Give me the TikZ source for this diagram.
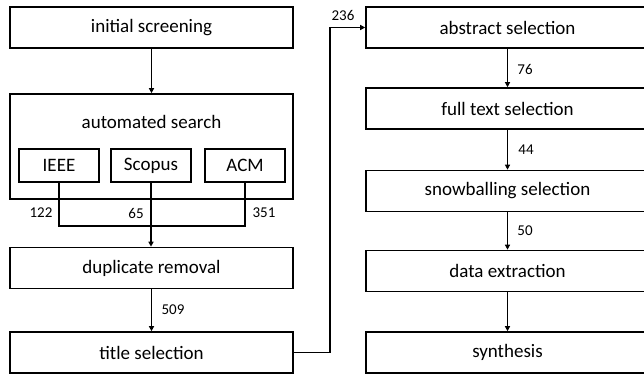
\documentclass[tikz,border=0pt]{standalone}
\usepackage{fontspec}
\setmainfont{Carlito}
\usetikzlibrary{arrows.meta}
\begin{document}
\begin{tikzpicture}[x=1pt,y=-1pt,
  box/.style={draw,line width=1.6pt,minimum width=283pt,minimum height=41pt,inner sep=0pt,font=\fontsize{19}{22}\selectfont},
  db/.style={draw,line width=1.6pt,minimum width=80pt,minimum height=33pt,inner sep=0pt,font=\fontsize{19}{22}\selectfont},
  con/.style={line width=1.8pt,-{Triangle[length=5pt,width=5pt]}},
  ln/.style={line width=1.8pt},
  num/.style={font=\fontsize{15}{16}\selectfont,inner sep=0pt}]
\useasboundingbox (0,0) rectangle (644,375);
\node[box] (init) at (151.5,27.5) {initial screening};
\node[draw,line width=1.6pt,minimum width=283pt,minimum height=105pt,inner sep=0pt] (auto) at (151.5,146.5) {};
\node[font=\fontsize{19}{22}\selectfont,inner sep=0pt] (autot) at (151.5,122) {automated search};
\node[db] (ieee) at (59,165.5) {IEEE};
\node[db] (scopus) at (151,165.5) {Scopus};
\node[db] (acm) at (245,165.5) {ACM};
\node[box] (dup) at (151.5,268) {duplicate removal};
\node[box] (title) at (151.5,352.5) {title selection};
\node[box] (abs) at (507.5,27.5) {abstract selection};
\node[box] (full) at (507.5,108.5) {full text selection};
\node[box] (snow) at (507.5,191) {snowballing selection};
\node[box] (data) at (507.5,271) {data extraction};
\node[box] (syn) at (507.5,352.5) {synthesis};
\coordinate (m) at (151,226);
\draw[con] (init.south -| auto.north) -- (auto.north);
\draw[ln] (ieee.south) |- (m);
\draw[ln] (acm.south) |- (m);
\draw[con] (scopus.south) -- (dup.north -| scopus.south);
\draw[con] (dup.south) -- (title.north);
\coordinate (k1) at (330,352.5);
\coordinate (k2) at (330,27.5);
\draw[con] (title.east) -- (k1) -- (k2) -- (abs.west);
\draw[con] (abs.south) -- (full.north);
\draw[con] (full.south) -- (snow.north);
\draw[con] (snow.south) -- (data.north);
\draw[con] (data.south) -- (syn.north);
\node[num] (n122) at (41,213) {122};
\node[num] (n65) at (136,213) {65};
\node[num] (n351) at (264,213) {351};
\node[num] (n509) at (173,310) {509};
\node[num] (n236) at (343,15) {236};
\node[num] (n76) at (525,69) {76};
\node[num] (n44) at (526,150) {44};
\node[num] (n50) at (525,231) {50};
\end{tikzpicture}
\end{document}
